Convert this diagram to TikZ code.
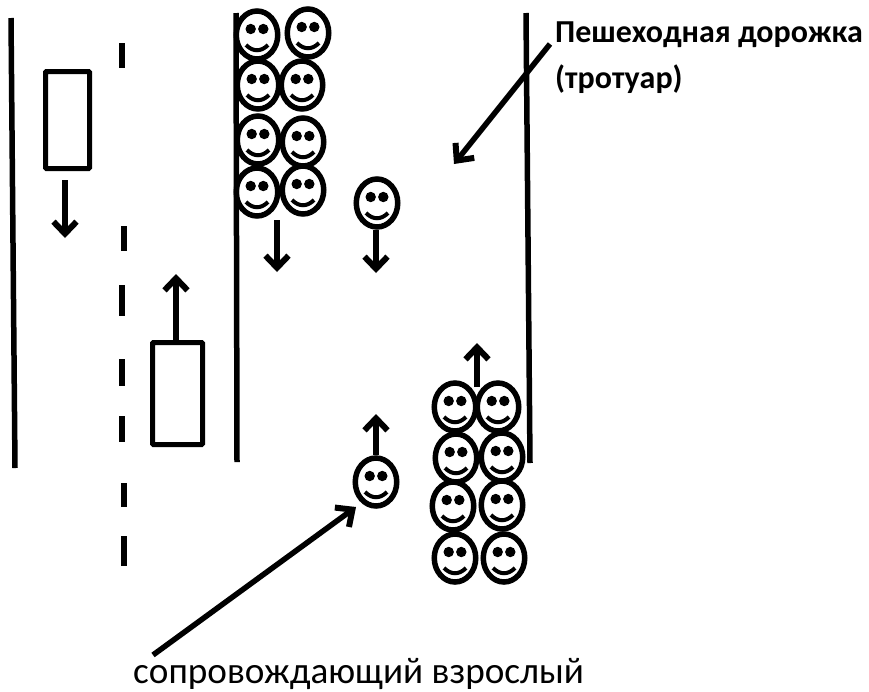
\documentclass[tikz,border=0pt]{standalone}
\usepackage{fontspec}
\setmainfont{Carlito}
\usetikzlibrary{arrows.meta,shapes.geometric}
\tikzset{
  road/.style={line width=5.5pt},
  dashline/.style={line width=6pt},
  moveline/.style={line width=5.5pt,-{Straight Barb[length=12pt,width=23pt,line width=6pt]}},
  pointer/.style={line width=5.5pt,-{Straight Barb[length=13pt,width=24pt,line width=6pt]}},
  car/.style={draw,line width=5pt,inner sep=0pt,rounded corners=1pt},
  smiley/.style={ellipse,draw,line width=5.5pt,minimum width=41.5pt,minimum height=48pt,inner sep=0pt,
    path picture={
      \fill ([shift={(-6.3pt,6pt)}]path picture bounding box.center) circle (5.2pt);
      \fill ([shift={(6.3pt,6pt)}]path picture bounding box.center) circle (5.2pt);
      \draw[line width=4pt] ([shift={(-11pt,-10pt)}]path picture bounding box.center)
        .. controls ([shift={(-4pt,-17pt)}]path picture bounding box.center)
        and ([shift={(4pt,-17pt)}]path picture bounding box.center)
        .. ([shift={(11pt,-10pt)}]path picture bounding box.center);
    }},
}
\begin{document}
\begin{tikzpicture}[x=1pt,y=-1pt]
    \useasboundingbox (0,0) rectangle (869,691);

    % draw road lines
    \draw[road] (11,18) -- (15,468);
    \draw[road] (236,13) -- (237,462);
    \draw[road] (526,13) -- (530,463);

    % draw middle dashes
    \foreach \x/\ya/\yb in {122/43/68,124/226/251,122/285/316,122/359/386,122/416/442,124/483/507,124/536/566}
      \draw[dashline] (\x,\ya) -- (\x,\yb);

    % draw cars
    \node[car,minimum width=44pt,minimum height=97pt] (cardown) at (67.5,120) {};
    \node[car,minimum width=50pt,minimum height=102pt] (carup) at (177.5,393.5) {};

    % draw children
    \foreach \x/\y/\n in {257/35/a1,308/33/a2,258/85/a3,302/85/a4,258/140/a5,303/142/a6,257/192/a7,303/190/a8,
                          455/407/b1,498/407/b2,456/458/b3,502/457/b4,453/506/b5,502/505/b6,455/558/b7,504/558/b8}
      \node[smiley] (\n) at (\x,\y) {};

    % draw adults
    \node[smiley] (adultdown) at (377,203) {};
    \node[smiley] (adultup) at (376,482) {};

    % draw texts
    \node[anchor=base west,font=\fontsize{32}{36}\selectfont\bfseries,inner sep=0pt] (walkway) at (555,42) {Пешеходная дорожка};
    \node[anchor=base west,font=\fontsize{32}{36}\selectfont\bfseries,inner sep=0pt] (walkwaytwo) at (555,88) {(тротуар)};
    \node[anchor=base west,font=\fontsize{37.2}{40}\selectfont,inner sep=0pt] (adultlabel) at (133,683) {сопровождающий взрослый};

    % draw arrows
    \coordinate (cardownA) at (65,180);
    \coordinate (cardownB) at (65,238);
    \coordinate (carupB) at (176,274);
    \coordinate (groupdownA) at (277,220);
    \coordinate (groupdownB) at (277,272);
    \coordinate (adultdownB) at (376,273);
    \coordinate (groupupA) at (477,387);
    \coordinate (groupupB) at (477,343);
    \coordinate (adultupB) at (376,414);
    \coordinate (walkwayA) at (550,44);
    \coordinate (walkwayB) at (454,164);
    \coordinate (adultA) at (153,655);
    \coordinate (adultB) at (356,507);

    \draw[moveline] (cardownA) -- (cardownB);
    \draw[moveline] (carup.north -| carupB) -- (carupB);
    \draw[moveline] (groupdownA) -- (groupdownB);
    \draw[moveline] (adultdown.south -| adultdownB) -- (adultdownB);
    \draw[moveline] (groupupA) -- (groupupB);
    \draw[moveline] (adultup.north) -- (adultupB);
    \draw[pointer] (walkwayA) -- (walkwayB);
    \draw[pointer] (adultA) -- (adultB);
\end{tikzpicture}
\end{document}
